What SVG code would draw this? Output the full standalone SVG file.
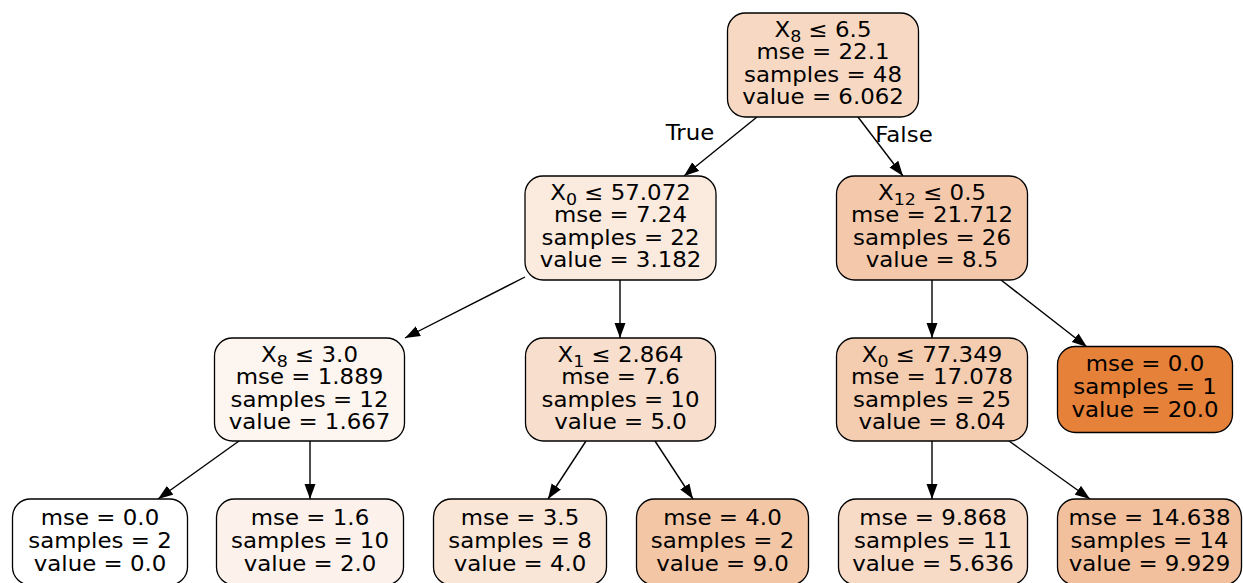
<svg xmlns="http://www.w3.org/2000/svg" width="1243" height="583" viewBox="0 0 1243 583">
<defs>
<style>
.box{stroke:#000;stroke-width:1.3}
text{font-family:"DejaVu Sans","Noto Sans",sans-serif;font-size:21px;fill:#000;text-anchor:middle}
.sub{font-size:16px}
.edge{stroke:#000;stroke-width:1.4;fill:none;marker-end:url(#arr)}
</style>
<marker id="arr" markerUnits="userSpaceOnUse" markerWidth="16" markerHeight="12" refX="15" refY="6" orient="auto">
<path d="M0,0.5 L15,6 L0,11.5 Z" fill="#000"/>
</marker>
</defs>
<rect width="1243" height="583" fill="#fff"/>
<g id="edges">
<line class="edge" x1="757" y1="117" x2="684" y2="176"/>
<line class="edge" x1="858" y1="117" x2="903" y2="176"/>
<line class="edge" x1="525" y1="277" x2="405" y2="338"/>
<line class="edge" x1="620" y1="280" x2="620" y2="338"/>
<line class="edge" x1="932" y1="280" x2="932" y2="338"/>
<line class="edge" x1="1001" y1="280" x2="1087" y2="347"/>
<line class="edge" x1="239" y1="441" x2="158" y2="499"/>
<line class="edge" x1="310" y1="441" x2="310" y2="499"/>
<line class="edge" x1="586" y1="441" x2="548" y2="499"/>
<line class="edge" x1="655" y1="441" x2="693" y2="499"/>
<line class="edge" x1="932" y1="441" x2="932" y2="499"/>
<line class="edge" x1="1009" y1="441" x2="1090" y2="499"/>
<g transform="translate(690 0) scale(1.09 1)"><text x="0" y="140">True</text></g>
<g transform="translate(904 0) scale(1.09 1)"><text x="0" y="142">False</text></g>
</g>
<g id="n0">
<rect class="box" x="727.5" y="13" width="191" height="104" rx="18" fill="#f7d9c3"/>
<g transform="translate(823 0) scale(1.09 1)">
<text x="0" y="37">X<tspan class="sub" dy="5">8</tspan><tspan dy="-5"> ≤ 6.5</tspan></text>
<text x="0" y="59.5">mse = 22.1</text>
<text x="0" y="82">samples = 48</text>
<text x="0" y="104.5">value = 6.062</text>
</g>
</g>
<g id="n1">
<rect class="box" x="525" y="176" width="191" height="104" rx="18" fill="#fbebdf"/>
<g transform="translate(620.5 0) scale(1.09 1)">
<text x="0" y="200">X<tspan class="sub" dy="5">0</tspan><tspan dy="-5"> ≤ 57.072</tspan></text>
<text x="0" y="222.5">mse = 7.24</text>
<text x="0" y="245">samples = 22</text>
<text x="0" y="267.5">value = 3.182</text>
</g>
</g>
<g id="n8">
<rect class="box" x="836.5" y="176" width="191" height="104" rx="18" fill="#f4c9ab"/>
<g transform="translate(932 0) scale(1.09 1)">
<text x="0" y="200">X<tspan class="sub" dy="5">12</tspan><tspan dy="-5"> ≤ 0.5</tspan></text>
<text x="0" y="222.5">mse = 21.712</text>
<text x="0" y="245">samples = 26</text>
<text x="0" y="267.5">value = 8.5</text>
</g>
</g>
<g id="n2">
<rect class="box" x="214.5" y="338" width="190" height="103" rx="18" fill="#fdf5ef"/>
<g transform="translate(309.5 0) scale(1.09 1)">
<text x="0" y="362">X<tspan class="sub" dy="5">8</tspan><tspan dy="-5"> ≤ 3.0</tspan></text>
<text x="0" y="384.5">mse = 1.889</text>
<text x="0" y="407">samples = 12</text>
<text x="0" y="429.5">value = 1.667</text>
</g>
</g>
<g id="n5">
<rect class="box" x="525.5" y="338" width="190" height="103" rx="18" fill="#f8dfcd"/>
<g transform="translate(620.5 0) scale(1.09 1)">
<text x="0" y="362">X<tspan class="sub" dy="5">1</tspan><tspan dy="-5"> ≤ 2.864</tspan></text>
<text x="0" y="384.5">mse = 7.6</text>
<text x="0" y="407">samples = 10</text>
<text x="0" y="429.5">value = 5.0</text>
</g>
</g>
<g id="n9">
<rect class="box" x="836.5" y="338" width="191" height="103" rx="18" fill="#f4ccaf"/>
<g transform="translate(932 0) scale(1.09 1)">
<text x="0" y="362">X<tspan class="sub" dy="5">0</tspan><tspan dy="-5"> ≤ 77.349</tspan></text>
<text x="0" y="384.5">mse = 17.078</text>
<text x="0" y="407">samples = 25</text>
<text x="0" y="429.5">value = 8.04</text>
</g>
</g>
<g id="n12">
<rect class="box" x="1057.5" y="346.5" width="175" height="86" rx="18" fill="#e58139"/>
<g transform="translate(1145 0) scale(1.09 1)">
<text x="0" y="371.5">mse = 0.0</text>
<text x="0" y="394.5">samples = 1</text>
<text x="0" y="417.5">value = 20.0</text>
</g>
</g>
<g id="n3">
<rect class="box" x="12.5" y="499" width="175" height="86" rx="18" fill="#ffffff"/>
<g transform="translate(100 0) scale(1.09 1)">
<text x="0" y="525">mse = 0.0</text>
<text x="0" y="548">samples = 2</text>
<text x="0" y="571">value = 0.0</text>
</g>
</g>
<g id="n4">
<rect class="box" x="216.5" y="499" width="187" height="86" rx="18" fill="#fcf2eb"/>
<g transform="translate(310 0) scale(1.09 1)">
<text x="0" y="525">mse = 1.6</text>
<text x="0" y="548">samples = 10</text>
<text x="0" y="571">value = 2.0</text>
</g>
</g>
<g id="n6">
<rect class="box" x="433.5" y="499" width="173" height="86" rx="18" fill="#fae6d7"/>
<g transform="translate(520 0) scale(1.09 1)">
<text x="0" y="525">mse = 3.5</text>
<text x="0" y="548">samples = 8</text>
<text x="0" y="571">value = 4.0</text>
</g>
</g>
<g id="n7">
<rect class="box" x="636.5" y="499" width="172" height="86" rx="18" fill="#f3c6a6"/>
<g transform="translate(722.5 0) scale(1.09 1)">
<text x="0" y="525">mse = 4.0</text>
<text x="0" y="548">samples = 2</text>
<text x="0" y="571">value = 9.0</text>
</g>
</g>
<g id="n10">
<rect class="box" x="838.5" y="499" width="189" height="86" rx="18" fill="#f8dbc7"/>
<g transform="translate(933 0) scale(1.09 1)">
<text x="0" y="525">mse = 9.868</text>
<text x="0" y="548">samples = 11</text>
<text x="0" y="571">value = 5.636</text>
</g>
</g>
<g id="n11">
<rect class="box" x="1057.5" y="499" width="184" height="86" rx="18" fill="#f2c09d"/>
<g transform="translate(1149.5 0) scale(1.09 1)">
<text x="0" y="525">mse = 14.638</text>
<text x="0" y="548">samples = 14</text>
<text x="0" y="571">value = 9.929</text>
</g>
</g>
</svg>
